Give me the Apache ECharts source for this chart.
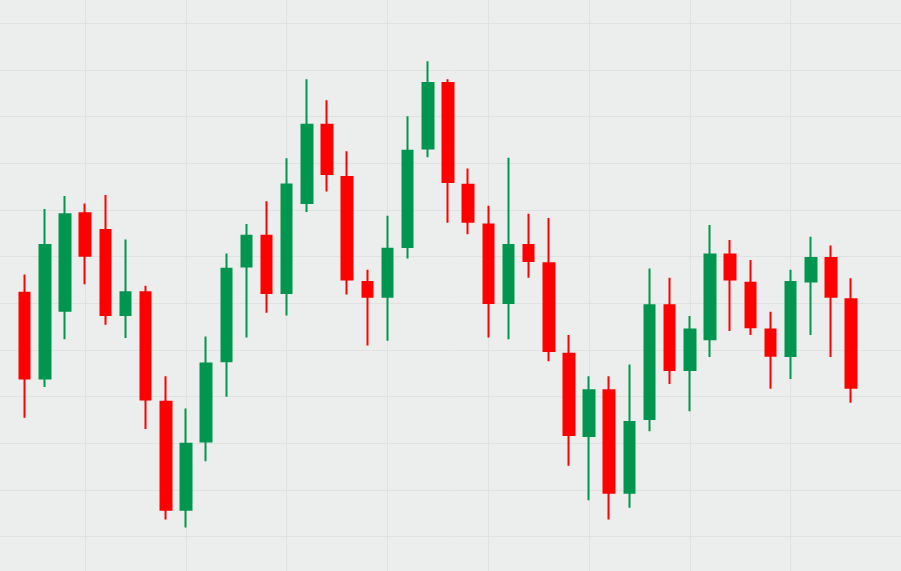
<!DOCTYPE html>
<html>
<head>
<meta charset="utf-8">
<script src="https://cdn.jsdelivr.net/npm/echarts@6/dist/echarts.min.js"></script>
<style>
html,body{margin:0;padding:0;background:#eceeed;overflow:hidden;}
#chart{width:901px;height:571px;}
</style>
</head>
<body>
<div id="chart"></div>
<script>
// categories (sessions)
const categories = Array.from({length: 42}, (_, i) => 'D' + (i + 1));
// [open, close, low, high]
const opens  = [152.3,133.9,148.4,169.3,165.7,147.5,152.4,128.9,105.8,120.4,137.6,157.9,164.5,152.2,171.5,188.3,177.1,154.6,151.4,162.1,183.2,197.2,175.4,166.9,150.1,162.5,158.6,139.2,121.6,131.4,109.4,125.2,149.6,135.7,142.3,160.5,154.4,144.4,138.7,154.7,159.7,150.9];
const closes = [133.9,162.5,169.1,160.2,147.5,152.4,129.4,105.8,119.9,137.1,157.4,164.5,152.2,175.5,188.3,177.7,155.1,151.4,161.7,182.7,197.2,176.0,167.5,150.1,162.5,159.1,139.8,121.8,131.4,109.4,124.6,149.6,135.7,144.4,160.5,155.1,144.9,138.8,154.6,159.7,151.4,131.9];
const lows   = [125.5,132.1,142.3,154.1,145.4,142.6,123.1,103.7,102.0,116.2,130.0,142.7,148.0,147.4,169.6,174.0,151.9,141.0,142.0,159.6,181.3,167.3,164.8,142.7,142.3,155.5,137.6,115.2,107.8,103.7,106.2,122.6,132.7,126.9,138.5,144.1,143.2,131.7,133.8,143.2,138.5,128.7];
const highs  = [156.2,170.2,173.0,171.4,173.2,163.7,153.8,134.4,127.5,142.9,160.7,167.0,171.9,181.1,198.0,193.5,182.6,157.2,168.8,190.1,201.9,198.0,178.9,170.9,181.2,169.2,168.3,143.2,134.4,134.4,136.9,157.5,155.5,147.3,166.8,163.6,159.3,148.2,157.2,164.3,162.4,155.4];

// session index on a numeric axis: [x, open, close, low, high]
const ohlc = categories.map((c, i) => [i, opens[i], closes[i], lows[i], highs[i]]);

const gridLine = {color: '#dfe2e0', width: 1};
const hidden = {axisLine: {show: false}, axisTick: {show: false}, axisLabel: {show: false}};

const chart = echarts.init(document.getElementById('chart'), null, {renderer: 'canvas'});
chart.setOption({
  backgroundColor: '#eceeed',
  animation: false,
  grid: [
    {left: -15.6, right: 9.6, top: -23.3, bottom: -12.4, containLabel: false, outerBoundsMode: 'none'},
    {left: -15.6, right: -10.6, top: -23.3, bottom: -12.4, containLabel: false, outerBoundsMode: 'none'}
  ],
  xAxis: [
    Object.assign({
      type: 'value', gridIndex: 0, min: -2, max: 43, interval: 5,
      splitLine: {show: true, showMaxLine: false, lineStyle: gridLine}
    }, hidden),
    Object.assign({
      type: 'value', gridIndex: 1, min: -2, max: 44,
      splitLine: {show: false}
    }, hidden)
  ],
  yAxis: [
    Object.assign({
      type: 'value', gridIndex: 0, min: 90, max: 220, interval: 10,
      splitLine: {show: false}
    }, hidden),
    Object.assign({
      type: 'value', gridIndex: 1, min: 90, max: 220, interval: 10,
      splitLine: {show: true, lineStyle: gridLine}
    }, hidden)
  ],
  series: [{
    type: 'candlestick',
    xAxisIndex: 0,
    yAxisIndex: 0,
    data: ohlc,
    encode: {x: 0, y: [1, 2, 3, 4]},
    barWidth: 11,
    clip: false,
    z: 5,
    itemStyle: {
      color: '#00964f',
      color0: '#fe0000',
      borderColor: '#00964f',
      borderColor0: '#fe0000',
      borderWidth: 2
    }
  }]
});
</script>
</body>
</html>
